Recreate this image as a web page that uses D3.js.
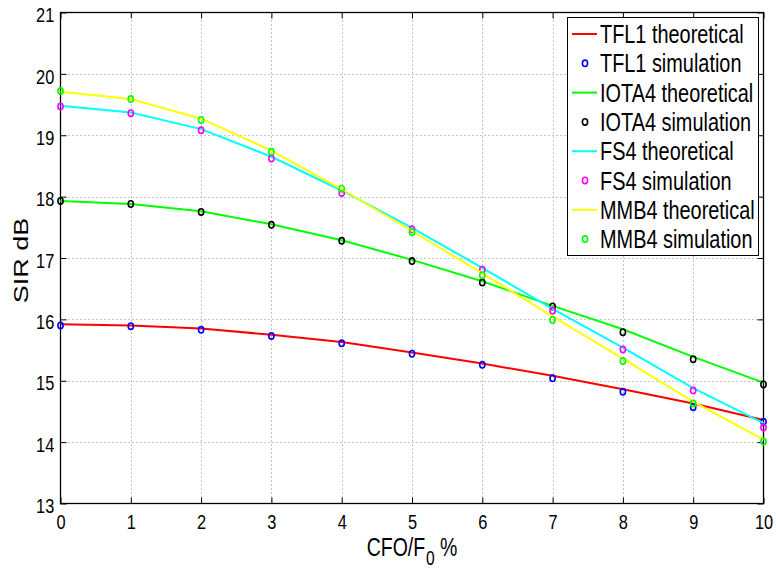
<!DOCTYPE html>
<html>
<head>
<meta charset="utf-8">
<script src="https://cdn.jsdelivr.net/npm/d3@7"></script>
<style>
  html, body { margin: 0; padding: 0; background: #fff; }
  svg { display: block; }
  text { font-family: "Liberation Sans", Arial, Helvetica, sans-serif; fill: #000; }
</style>
</head>
<body>
<svg id="chart" width="776" height="568"></svg>
<script>
// CFO / F0 in percent
const cfo = [0, 1, 2, 3, 4, 5, 6, 7, 8, 9, 10];

// SIR (dB) — theoretical curves
const tfl1Theory = [15.92, 15.90, 15.85, 15.75, 15.63, 15.46, 15.28, 15.08, 14.86, 14.63, 14.36];
const iota4Theory = [17.93, 17.88, 17.76, 17.55, 17.29, 16.97, 16.62, 16.22, 15.84, 15.39, 14.97];
const fs4Theory = [19.48, 19.37, 19.10, 18.65, 18.10, 17.49, 16.84, 16.17, 15.54, 14.88, 14.31];
const mmb4Theory = [19.71, 19.59, 19.27, 18.75, 18.12, 17.44, 16.75, 16.05, 15.36, 14.66, 14.04];

// SIR (dB) — simulation results
const tfl1Sim = [15.90, 15.89, 15.83, 15.73, 15.61, 15.44, 15.26, 15.04, 14.82, 14.57, 14.33];
const iota4Sim = [17.93, 17.88, 17.75, 17.54, 17.28, 16.95, 16.60, 16.21, 15.79, 15.35, 14.94];
const fs4Sim = [19.47, 19.36, 19.08, 18.62, 18.06, 17.47, 16.81, 16.14, 15.51, 14.84, 14.24];
const mmb4Sim = [19.72, 19.59, 19.25, 18.73, 18.13, 17.42, 16.72, 15.99, 15.32, 14.63, 14.01];

// Axis ticks
const xTicks = [0, 1, 2, 3, 4, 5, 6, 7, 8, 9, 10];
const yTicks = [13, 14, 15, 16, 17, 18, 19, 20, 21];

// Legend entries, in drawing order
const seriesNames = ["TFL1 theoretical", "TFL1 simulation", "IOTA4 theoretical", "IOTA4 simulation",
                     "FS4 theoretical", "FS4 simulation", "MMB4 theoretical", "MMB4 simulation"];
const seriesKinds = ["line", "marker", "line", "marker", "line", "marker", "line", "marker"];
const seriesColors = ["#ff0000", "#0000ff", "#00ff00", "#000000", "#00ffff", "#ff00ff", "#ffff00", "#00ff00"];
const seriesValues = [tfl1Theory, tfl1Sim, iota4Theory, iota4Sim, fs4Theory, fs4Sim, mmb4Theory, mmb4Sim];

const svg = d3.select("#chart");
const plotL = 60.5, plotR = 763.5, plotT = 12.5, plotB = 503.5;
// glyphs are drawn horizontally condensed
const squeeze = 0.78;

const x = d3.scaleLinear().domain([0, 10]).range([plotL, plotR]);
const y = d3.scaleLinear().domain([13, 21]).range([plotB, plotT]);

// Dotted grid
const grid = svg.append("g").attr("stroke", "#8a8a8a").attr("stroke-width", 1).attr("stroke-dasharray", "1,3");
grid.selectAll("line.gx").data(xTicks.slice(1, -1)).join("line")
  .attr("x1", d => Math.round(x(d)) + 0.5).attr("x2", d => Math.round(x(d)) + 0.5)
  .attr("y1", plotT).attr("y2", plotB);
grid.selectAll("line.gy").data(yTicks.slice(1, -1)).join("line")
  .attr("y1", d => Math.round(y(d)) + 0.5).attr("y2", d => Math.round(y(d)) + 0.5)
  .attr("x1", plotL).attr("x2", plotR);

// Axes with inward ticks on all four sides
const tickLen = 6;
const axisBottom = d3.axisBottom(x).tickValues(xTicks).tickSize(-tickLen).tickPadding(11).tickFormat(d3.format("d"));
const axisTop = d3.axisTop(x).tickValues(xTicks).tickSize(-tickLen).tickFormat("");
const axisLeft = d3.axisLeft(y).tickValues(yTicks).tickSize(-tickLen).tickPadding(8).tickFormat(d3.format("d"));
const axisRight = d3.axisRight(y).tickValues(yTicks).tickSize(-tickLen).tickFormat("");

function styleAxis(g) {
  g.select(".domain").remove();
  g.selectAll(".tick line").attr("stroke", "#000").attr("stroke-width", 1);
  g.selectAll("text").style("font-size", "21px").attr("fill", "#000")
    .attr("transform", `scale(${squeeze},1)`);
}

svg.append("g").attr("transform", `translate(0,${plotB})`).call(axisBottom).call(styleAxis);
svg.append("g").attr("transform", `translate(0,${plotT})`).call(axisTop).call(styleAxis);
svg.append("g").attr("transform", `translate(${plotL},0)`).call(axisLeft).call(styleAxis)
  .selectAll("text").attr("y", 2.5);
svg.append("g").attr("transform", `translate(${plotR},0)`).call(axisRight).call(styleAxis);

// Box
svg.append("rect").attr("x", plotL).attr("y", plotT).attr("width", plotR - plotL).attr("height", plotB - plotT)
  .attr("fill", "none").attr("stroke", "#000").attr("stroke-width", 1.3);

// Curves and markers
const line = d3.line().x((d, i) => x(cfo[i])).y(d => y(d));
seriesValues.forEach((vals, k) => {
  if (seriesKinds[k] === "line") {
    svg.append("path").datum(vals).attr("d", line)
      .attr("fill", "none").attr("stroke", seriesColors[k]).attr("stroke-width", 2);
  } else {
    svg.append("g").selectAll("ellipse").data(vals).join("ellipse")
      .attr("cx", (d, i) => x(cfo[i])).attr("cy", d => y(d)).attr("rx", 2.6).attr("ry", 3.2)
      .attr("fill", "none").attr("stroke", seriesColors[k]).attr("stroke-width", 1.6);
  }
});

// Axis labels
svg.append("text").attr("transform", `translate(${(plotL + plotR) / 2},556) scale(${squeeze},1)`)
  .attr("text-anchor", "middle").style("font-size", "25px")
  .call(t => {
    t.append("tspan").text("CFO/F");
    t.append("tspan").attr("dy", 9).attr("dx", 1).style("font-size", "20px").text("0");
    t.append("tspan").attr("dy", -9).text(" %");
  });
svg.append("text").attr("transform", `translate(27.5,260.5) scale(${squeeze},1) rotate(-90)`)
  .attr("text-anchor", "middle").style("font-size", "27px").text("SIR dB");

// Legend
const lg = svg.append("g");
const lgX = 567.5, lgY = 17.5, lgW = 191, lgH = 238, rowH = 29.3, row0 = 34;
lg.append("rect").attr("x", lgX).attr("y", lgY).attr("width", lgW).attr("height", lgH)
  .attr("fill", "#fff").attr("stroke", "#000").attr("stroke-width", 1);
seriesNames.forEach((name, k) => {
  const cy = row0 + k * rowH;
  if (seriesKinds[k] === "line") {
    lg.append("line").attr("x1", 572).attr("x2", 597).attr("y1", cy).attr("y2", cy)
      .attr("stroke", seriesColors[k]).attr("stroke-width", 2);
  } else {
    lg.append("ellipse").attr("cx", 585).attr("cy", cy).attr("rx", 2.6).attr("ry", 3.2)
      .attr("fill", "none").attr("stroke", seriesColors[k]).attr("stroke-width", 1.6);
  }
  lg.append("text").attr("transform", `translate(600,${cy}) scale(${squeeze},1)`)
    .attr("dy", "0.36em").style("font-size", "25.5px").text(name);
});
</script>
</body>
</html>
